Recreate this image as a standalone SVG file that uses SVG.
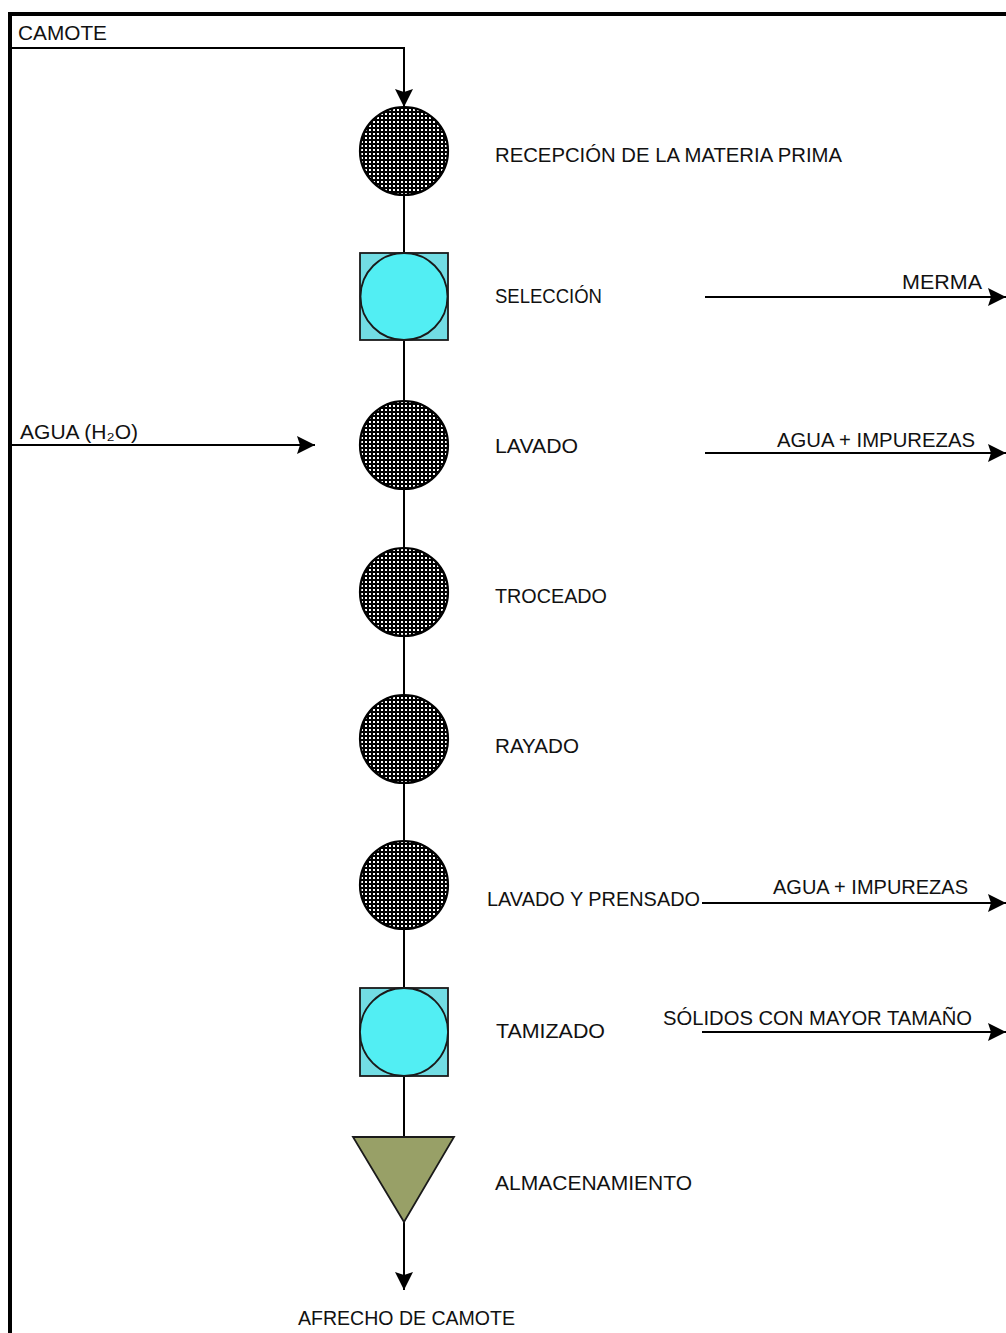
<svg xmlns="http://www.w3.org/2000/svg" width="1006" height="1333" viewBox="0 0 1006 1333">
  <defs>
    <!-- fine mesh: white dots on black, used for the operation circles -->
    <pattern id="checker" width="4" height="4" patternUnits="userSpaceOnUse">
      <rect width="4" height="4" fill="#000000"/>
      <rect x="1" y="1" width="2" height="2" fill="#ffffff"/>
    </pattern>
    <marker id="arrow" markerWidth="19" markerHeight="18" refX="18" refY="9" orient="auto" markerUnits="userSpaceOnUse">
      <path d="M0,0 L18,9 L0,18 L3,9 z" fill="#000000"/>
    </marker>
    <style>
      .lbl { font-family: "Liberation Sans", Arial, sans-serif; font-size: 20px; fill: #111111; }
      .flow { stroke: #000000; stroke-width: 2; fill: none; }
      .frame { stroke: #000000; stroke-width: 4; fill: none; }
      .op { fill: url(#checker); stroke: #000000; stroke-width: 2.2; }
      .box { fill: #72dde4; stroke: #1a1a1a; stroke-width: 1.8; }
      .insp { fill: #52eef3; stroke: #1a1a1a; stroke-width: 1.8; }
      .store { fill: #98a067; stroke: #1a1a1a; stroke-width: 1.8; }
    </style>
  </defs>

  <rect width="1006" height="1333" fill="#ffffff"/>

  <!-- outer frame: top and left edges -->
  <path class="frame" d="M10,1333 L10,14 L1006,14"/>

  <!-- connectors -->
  <g id="connectors">
    <path class="flow" d="M10,48 L404,48 L404,107" marker-end="url(#arrow)"/>
    <path class="flow" d="M10,445 L315,445" marker-end="url(#arrow)"/>
    <line class="flow" x1="404" y1="195" x2="404" y2="253"/>
    <line class="flow" x1="404" y1="340" x2="404" y2="401"/>
    <line class="flow" x1="404" y1="489" x2="404" y2="548"/>
    <line class="flow" x1="404" y1="636" x2="404" y2="695"/>
    <line class="flow" x1="404" y1="783" x2="404" y2="841"/>
    <line class="flow" x1="404" y1="929" x2="404" y2="988"/>
    <line class="flow" x1="404" y1="1076" x2="404" y2="1137"/>
    <path class="flow" d="M404,1222 L404,1290" marker-end="url(#arrow)"/>
    <path class="flow" d="M705,297 L1006,297" marker-end="url(#arrow)"/>
    <path class="flow" d="M705,453 L1006,453" marker-end="url(#arrow)"/>
    <path class="flow" d="M702,903 L1006,903" marker-end="url(#arrow)"/>
    <path class="flow" d="M702,1032 L1006,1032" marker-end="url(#arrow)"/>
  </g>

  <!-- stream labels -->
  <g id="stream-labels">
    <text class="lbl" x="18" y="40" textLength="89" lengthAdjust="spacingAndGlyphs">CAMOTE</text>
    <text class="lbl" x="20" y="439" textLength="118" lengthAdjust="spacingAndGlyphs">AGUA (H₂O)</text>
    <text class="lbl" x="902" y="289" textLength="80" lengthAdjust="spacingAndGlyphs">MERMA</text>
    <text class="lbl" x="777" y="447" textLength="198" lengthAdjust="spacingAndGlyphs">AGUA + IMPUREZAS</text>
    <text class="lbl" x="773" y="894" textLength="195" lengthAdjust="spacingAndGlyphs">AGUA + IMPUREZAS</text>
    <text class="lbl" x="663" y="1025" textLength="309" lengthAdjust="spacingAndGlyphs">SÓLIDOS CON MAYOR TAMAÑO</text>
    <text class="lbl" x="298" y="1325" textLength="217" lengthAdjust="spacingAndGlyphs">AFRECHO DE CAMOTE</text>
  </g>

  <g id="recepcion">
    <circle class="op" cx="404" cy="151" r="44"/>
    <text class="lbl" x="495" y="162" textLength="347" lengthAdjust="spacingAndGlyphs">RECEPCIÓN DE LA MATERIA PRIMA</text>
  </g>

  <g id="seleccion">
    <rect class="box" x="360" y="253" width="88" height="87"/>
    <circle class="insp" cx="404" cy="296.5" r="43.5"/>
    <text class="lbl" x="495" y="303" textLength="107" lengthAdjust="spacingAndGlyphs">SELECCIÓN</text>
  </g>

  <g id="lavado">
    <circle class="op" cx="404" cy="445" r="44"/>
    <text class="lbl" x="495" y="453" textLength="83" lengthAdjust="spacingAndGlyphs">LAVADO</text>
  </g>

  <g id="troceado">
    <circle class="op" cx="404" cy="592" r="44"/>
    <text class="lbl" x="495" y="603" textLength="112" lengthAdjust="spacingAndGlyphs">TROCEADO</text>
  </g>

  <g id="rayado">
    <circle class="op" cx="404" cy="739" r="44"/>
    <text class="lbl" x="495" y="753" textLength="84" lengthAdjust="spacingAndGlyphs">RAYADO</text>
  </g>

  <g id="lavado-prensado">
    <circle class="op" cx="404" cy="885" r="44"/>
    <text class="lbl" x="487" y="906" textLength="213" lengthAdjust="spacingAndGlyphs">LAVADO Y PRENSADO</text>
  </g>

  <g id="tamizado">
    <rect class="box" x="360" y="988" width="88" height="88"/>
    <circle class="insp" cx="404" cy="1032" r="44"/>
    <text class="lbl" x="496" y="1038" textLength="109" lengthAdjust="spacingAndGlyphs">TAMIZADO</text>
  </g>

  <g id="almacenamiento">
    <polygon class="store" points="353,1137 454,1137 404,1222"/>
    <text class="lbl" x="495" y="1190" textLength="197" lengthAdjust="spacingAndGlyphs">ALMACENAMIENTO</text>
  </g>
</svg>
